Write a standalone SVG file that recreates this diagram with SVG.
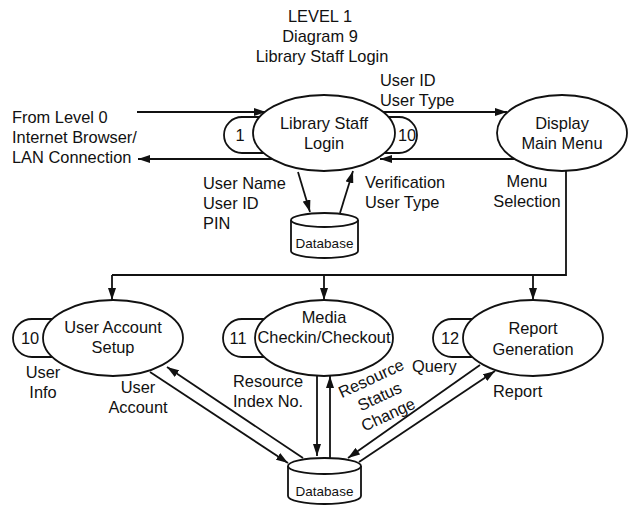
<svg xmlns="http://www.w3.org/2000/svg" width="630" height="506" viewBox="0 0 630 506">
<style>
text{font-family:"Liberation Sans",Arial,sans-serif;font-size:16.4px;fill:#111}
.c{text-anchor:middle}
.db{font-size:13.5px}
.shape{fill:#fff;stroke:#111;stroke-width:1.8}
.ln{fill:none;stroke:#111;stroke-width:1.8}
.ar{marker-end:url(#ah)}
</style>
<defs>
<marker id="ah" viewBox="0 0 12 8" refX="12" refY="4" markerWidth="12" markerHeight="8" markerUnits="userSpaceOnUse" orient="auto">
<path d="M0,0 L12,4 L0,8 z" fill="#111"/>
</marker>
</defs>
<rect width="630" height="506" fill="#fff"/>
<g id="title">
<text class="c" x="320" y="22">LEVEL 1</text>
<text class="c" x="320" y="42">Diagram 9</text>
<text class="c" x="322" y="62">Library Staff Login</text>
</g>
<g id="connectors">
<line class="ln ar" x1="137" y1="112" x2="266" y2="112"/>
<line class="ln ar" x1="272" y1="159" x2="138" y2="159"/>
<line class="ln ar" x1="383" y1="112" x2="507" y2="112"/>
<line class="ln ar" x1="515" y1="159" x2="380" y2="159"/>
<line class="ln ar" x1="298" y1="172" x2="310" y2="212"/>
<line class="ln ar" x1="340" y1="213" x2="353" y2="171"/>
<polyline class="ln" points="566,171 566,275 112,275"/>
<line class="ln ar" x1="112" y1="275" x2="112" y2="300"/>
<line class="ln ar" x1="324" y1="275" x2="324" y2="300"/>
<line class="ln ar" x1="533" y1="275" x2="533" y2="300"/>
<line class="ln ar" x1="150" y1="372" x2="288" y2="463"/>
<line class="ln ar" x1="303" y1="458" x2="167" y2="367"/>
<line class="ln ar" x1="317" y1="376" x2="317" y2="456"/>
<line class="ln ar" x1="330" y1="458" x2="330" y2="376"/>
<line class="ln ar" x1="480" y1="365" x2="348" y2="458"/>
<line class="ln ar" x1="359" y1="462" x2="495" y2="371"/>
</g>
<g id="ext-labels">
<text x="12" y="123">From Level 0</text>
<text x="12" y="143">Internet Browser/</text>
<text x="12" y="163">LAN Connection</text>
<text x="380" y="86">User ID</text>
<text x="380" y="106">User Type</text>
<text x="203" y="189">User Name</text>
<text x="203" y="209">User ID</text>
<text x="203" y="229">PIN</text>
<text x="365" y="188">Verification</text>
<text x="365" y="208">User Type</text>
<text class="c" x="527" y="187">Menu</text>
<text class="c" x="527" y="207">Selection</text>
<text class="c" x="43" y="378">User</text>
<text class="c" x="43" y="398">Info</text>
<text class="c" x="138" y="393">User</text>
<text class="c" x="138" y="413">Account</text>
<text x="233" y="387">Resource</text>
<text x="233" y="407">Index No.</text>
<text class="c" transform="translate(371,378) rotate(-25)"><tspan x="0" y="6">Resource</tspan><tspan x="0" y="26">Status</tspan><tspan x="0" y="46">Change</tspan></text>
<text x="412" y="372">Query</text>
<text x="493" y="397">Report</text>
</g>
<g id="login">
<rect class="shape" x="224" y="117" width="70" height="36" rx="18"/>
<rect class="shape" x="347" y="117" width="70" height="36" rx="18"/>
<ellipse class="shape" cx="324" cy="133" rx="71" ry="38"/>
<text class="c" x="240" y="141">1</text>
<text class="c" x="407" y="141">10</text>
<text class="c" x="324" y="129">Library Staff</text>
<text class="c" x="324" y="149">Login</text>
</g>
<g id="display">
<ellipse class="shape" cx="562" cy="133" rx="65" ry="38"/>
<text class="c" x="562" y="129">Display</text>
<text class="c" x="562" y="149">Main Menu</text>
</g>
<g id="db-top">
<path class="shape" d="M291,220 L291,251 A33.5,7 0 0 0 358,251 L358,220"/>
<ellipse class="shape" cx="324.5" cy="220" rx="33.5" ry="7"/>
<text class="c db" x="324.5" y="248">Database</text>
</g>
<g id="user-account">
<rect class="shape" x="13" y="319" width="70" height="38" rx="19"/>
<ellipse class="shape" cx="113" cy="338" rx="70" ry="38"/>
<text class="c" x="30" y="344">10</text>
<text class="c" x="113" y="333">User Account</text>
<text class="c" x="113" y="353">Setup</text>
</g>
<g id="media">
<rect class="shape" x="223" y="319" width="70" height="38" rx="19"/>
<ellipse class="shape" cx="324" cy="338" rx="69" ry="38"/>
<text class="c" x="238" y="344">11</text>
<text class="c" x="324" y="323">Media</text>
<text class="c" x="324" y="343">Checkin/Checkout</text>
</g>
<g id="report">
<rect class="shape" x="433" y="319" width="70" height="38" rx="19"/>
<ellipse class="shape" cx="533" cy="338" rx="70" ry="38"/>
<text class="c" x="450" y="344">12</text>
<text class="c" x="533" y="334">Report</text>
<text class="c" x="533" y="355">Generation</text>
</g>
<g id="db-bottom">
<path class="shape" d="M288,466 L288,496 A36.5,8 0 0 0 361,496 L361,466"/>
<ellipse class="shape" cx="324.5" cy="466" rx="36.5" ry="8"/>
<text class="c db" x="324.5" y="496">Database</text>
</g>
</svg>
